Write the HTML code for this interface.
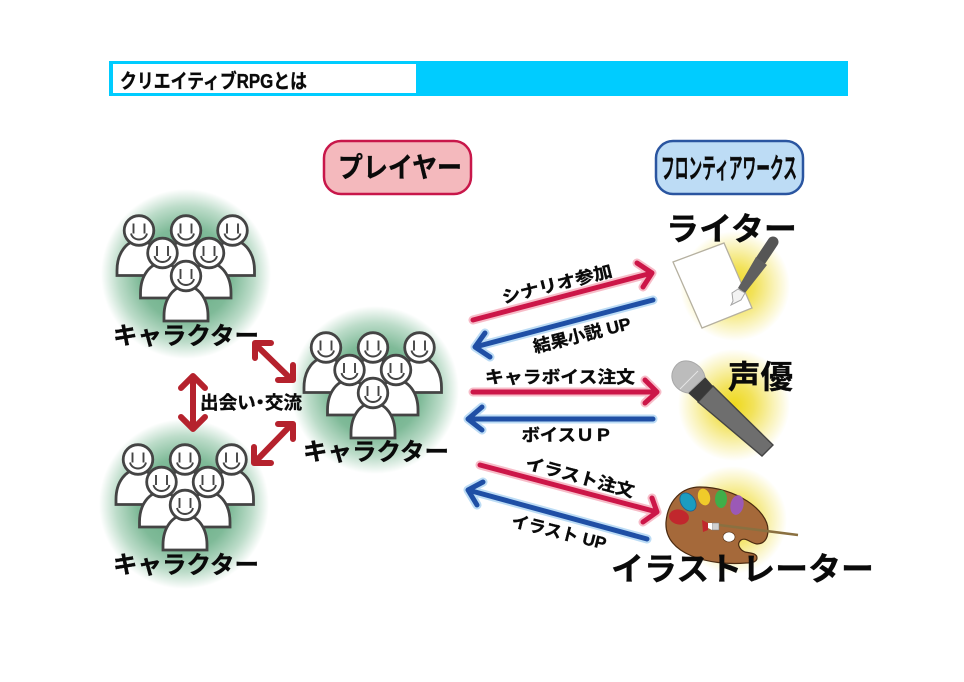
<!DOCTYPE html>
<html><head><meta charset="utf-8"><style>
html,body{margin:0;padding:0;background:#fff}
svg{display:block;filter:blur(.3px)}
text{font-family:"Liberation Sans","Noto Sans CJK JP",sans-serif;font-weight:700;fill:#0a0a0a;stroke:#0a0a0a;stroke-width:.35}
</style></head><body>
<svg xmlns="http://www.w3.org/2000/svg" width="964" height="682" viewBox="0 0 964 682">
<defs>
<radialGradient id="g"><stop offset="0" stop-color="#5fa97f"/><stop offset=".55" stop-color="#7fba98"/><stop offset=".8" stop-color="#bcdcc9"/><stop offset="1" stop-color="#fff"/></radialGradient>
<radialGradient id="y"><stop offset="0" stop-color="#efd91c"/><stop offset=".35" stop-color="#f2e25a"/><stop offset=".7" stop-color="#f9f2b5"/><stop offset="1" stop-color="#fff"/></radialGradient>
<g id="p">
<path d="M-22 45V40C-22 22-12 10 0 10S22 22 22 40V45Z" fill="#fff" stroke="#444" stroke-width="2.8"/>
<circle r="14.8" fill="#fff" stroke="#444" stroke-width="2.8"/>
<path d="M-5.5-7V3M5.5-7V3M-8 3C-6 11 6 11 8 3" fill="none" stroke="#444" stroke-width="1.9"/>
</g>
<g id="grp">
<use href="#p" x="-47" y="-45.5"/><use href="#p" x="0" y="-45.5"/><use href="#p" x="46.5" y="-45.5"/>
<use href="#p" x="-23.5" y="-23"/><use href="#p" x="23" y="-23"/><use href="#p" x="0" y="0"/>
</g>
</defs>

<rect x="109" y="61" width="739" height="35" fill="#00ccff"/>
<rect x="113" y="64" width="303" height="29" fill="#fff"/>
<text x="120" y="88" font-size="20" textLength="187" lengthAdjust="spacingAndGlyphs">クリエイティブRPGとは</text>

<rect x="324" y="141" width="147" height="53" rx="17" fill="#f4b9bd" stroke="#c8174a" stroke-width="2.5"/>
<text x="338" y="177" font-size="28" textLength="124" lengthAdjust="spacingAndGlyphs">プレイヤー</text>
<rect x="656" y="141" width="147" height="53" rx="17" fill="#bddcf5" stroke="#2a55a0" stroke-width="2.5"/>
<text x="661" y="178" font-size="28" textLength="136" lengthAdjust="spacingAndGlyphs">フロンティアワークス</text>

<circle cx="186" cy="274" r="85" fill="url(#g)"/>
<circle cx="184" cy="504" r="85" fill="url(#g)"/>
<circle cx="375" cy="390" r="84" fill="url(#g)"/>
<use href="#grp" x="186" y="276"/>
<use href="#grp" x="185" y="505"/>
<use href="#grp" x="373" y="393"/>
<text x="113" y="344" font-size="24" textLength="146" lengthAdjust="spacingAndGlyphs">キャラクター</text>
<text x="113" y="573" font-size="24" textLength="146" lengthAdjust="spacingAndGlyphs">キャラクター</text>
<text x="303" y="460" font-size="24" textLength="146" lengthAdjust="spacingAndGlyphs">キャラクター</text>

<g fill="none" stroke="#b5222d" stroke-width="6" stroke-linecap="round" stroke-linejoin="round">
<path d="M255 344L292 380M271 343H255V358M293 365V380H278"/>
<path d="M193 378V427M181 388L193 376L205 388M181 417L193 429L205 417"/>
<path d="M292 424L255 462M278 424H293V439M254 447V463H271"/>
</g>
<text x="200" y="409" font-size="18" textLength="102" lengthAdjust="spacingAndGlyphs" style="font-feature-settings:'palt'">出会い・交流</text>

<!-- writer -->
<circle cx="735" cy="286" r="55" fill="url(#y)"/>
<polygon points="673,262 724,243 752,308 702,328" fill="#fff" stroke="#b5b0a0" stroke-width="1.3"/>
<path d="M773 242L761 260" stroke="#555" stroke-width="11" stroke-linecap="round"/>
<polygon points="756,257 767,265 745,293 738,288" fill="#5f5f5f"/>
<path d="M738 289L732 293L733 301L731 305L741 300L745 293Z" fill="#f3f3f3" stroke="#a5a5a5" stroke-width="1"/>
<text x="666" y="240" font-size="32" textLength="131" lengthAdjust="spacingAndGlyphs">ライター</text>

<!-- mic -->
<circle cx="734" cy="405" r="56" fill="url(#y)"/>
<polygon points="698,402 713,386 773,445 762,456" fill="#6e6e6e" stroke="#444" stroke-width="1.4"/>
<polygon points="688,393 705,377 713,386 698,402" fill="#383838"/>
<path d="M688 393L705 377C703 366 692 360 684 361C676 362 671 371 672 378C673 386 680 392 688 393Z" fill="#bcbcbc" stroke="#a8a8a8" stroke-width="1"/>
<path d="M680 389L698 371" stroke="#e6e6e6" stroke-width="1"/>
<text x="728" y="388" font-size="32" textLength="65" lengthAdjust="spacingAndGlyphs">声優</text>

<!-- palette -->
<circle cx="733" cy="520" r="54" fill="url(#y)"/>
<path d="M666 522C668 500 682 487 700 487C735 487 768 510 768 530C768 540 763 544 757 544C750 543 746 537 741 540C736 544 740 550 745 552C750 553 757 553 757 558C757 562 752 563 746 563C710 566 664 555 666 522Z" fill="#a5693a" stroke="#4a2a10" stroke-width="1.2"/>
<ellipse cx="679" cy="517" rx="10" ry="7.5" transform="rotate(10 679 517)" fill="#c1272d"/>
<ellipse cx="688" cy="502" rx="7" ry="10" transform="rotate(-35 688 502)" fill="#1b9cc0" stroke="#1a5f90" stroke-width=".8"/>
<ellipse cx="704" cy="497" rx="6" ry="8.5" transform="rotate(-15 704 497)" fill="#f0cb2a"/>
<ellipse cx="721" cy="499" rx="6" ry="9" fill="#3fae49"/>
<ellipse cx="737" cy="505" rx="6.5" ry="10" transform="rotate(12 737 505)" fill="#9b59b6"/>
<ellipse cx="729" cy="537" rx="6" ry="5" fill="#fff" stroke="#4a2a10" stroke-width=".6"/>
<path d="M719 525L798 535" stroke="#8a7040" stroke-width="2.6"/>
<polygon points="712,523 719,523 719,530 712,530" fill="#d0d0d0" stroke="#777" stroke-width=".5"/>
<polygon points="708,523 712,523 712,530 708,528" fill="#fff"/>
<polygon points="702,520 708,523 708,530 703,532" fill="#c1272d"/>

<text x="611" y="580" font-size="32" textLength="263" lengthAdjust="spacingAndGlyphs">イラストレーター</text>

<!-- arrows: glow -->
<g fill="none" stroke-linecap="round" stroke-linejoin="round" stroke-width="9">
<g stroke="#f7bcc8">
<path d="M473 320L652 273M637 263L652 273L643 287"/>
<path d="M473 392H657M645 380L657 392L645 403"/>
<path d="M480 465L657 512M652 498L657 512L643 522"/>
</g>
<g stroke="#bcdcf5">
<path d="M653 300L475 347M485 333L475 347L490 357"/>
<path d="M653 419H468M482 407L468 419L482 430"/>
<path d="M647 539L468 490M483 482L468 490L477 505"/>
</g>
</g>
<g fill="none" stroke-linecap="round" stroke-linejoin="round" stroke-width="5">
<g stroke="#cc1648">
<path d="M473 320L652 273M637 263L652 273L643 287"/>
<path d="M473 392H657M645 380L657 392L645 403"/>
<path d="M480 465L657 512M652 498L657 512L643 522"/>
</g>
<g stroke="#1f4fa5">
<path d="M653 300L475 347M485 333L475 347L490 357"/>
<path d="M653 419H468M482 407L468 419L482 430"/>
<path d="M647 539L468 490M483 482L468 490L477 505"/>
</g>
</g>

<text x="557" y="290" font-size="17" text-anchor="middle" textLength="113" lengthAdjust="spacingAndGlyphs" transform="rotate(-14 557 284)">シナリオ参加</text>
<text x="582" y="341" font-size="17" text-anchor="middle" textLength="100" lengthAdjust="spacingAndGlyphs" transform="rotate(-14 582 335)">結果小説 UP</text>
<text x="560" y="383" font-size="17" text-anchor="middle" textLength="150" lengthAdjust="spacingAndGlyphs">キャラボイス注文</text>
<text x="567" y="441" font-size="17" text-anchor="middle" textLength="91" lengthAdjust="spacingAndGlyphs">ボイスＵＰ</text>
<text x="580" y="483" font-size="17" text-anchor="middle" textLength="112" lengthAdjust="spacingAndGlyphs" transform="rotate(15 580 477)">イラスト注文</text>
<text x="559" y="538" font-size="17" text-anchor="middle" textLength="97" lengthAdjust="spacingAndGlyphs" transform="rotate(14 559 532)">イラスト UP</text>
</svg>
</body></html>
